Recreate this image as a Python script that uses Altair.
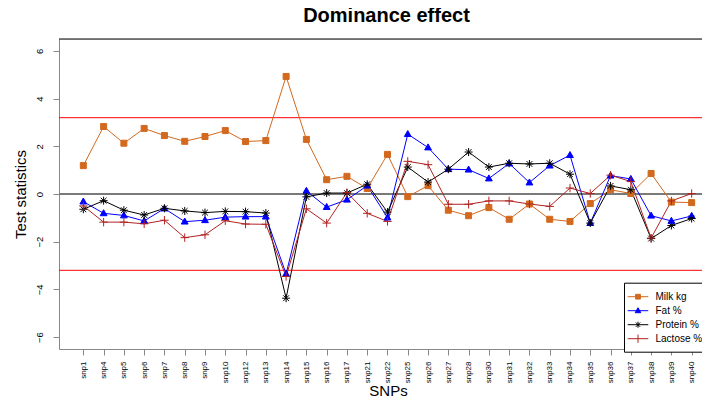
import json
import altair as alt
import pandas as pd

# ---- data ----
snps = ["snp1", "snp4", "snp5", "snp6", "snp7", "snp8", "snp9", "snp10", "snp12", "snp13",
        "snp14", "snp15", "snp16", "snp17", "snp21", "snp22", "snp25", "snp26", "snp27", "snp28",
        "snp30", "snp31", "snp32", "snp33", "snp34", "snp35", "snp36", "snp37", "snp38", "snp39", "snp40"]
milk = [1.19, 2.83, 2.13, 2.75, 2.45, 2.21, 2.41, 2.66, 2.20, 2.24, 4.93, 2.29, 0.60, 0.74, 0.23, 1.66,
        -0.11, 0.35, -0.68, -0.91, -0.57, -1.06, -0.42, -1.06, -1.15, -0.40, 0.18, 0.02, 0.86, -0.34, -0.36]
fat = [-0.32, -0.81, -0.90, -1.13, -0.61, -1.16, -1.10, -0.97, -0.95, -0.95, -3.35, 0.13, -0.55, -0.24, 0.35, -0.99,
       2.51, 1.95, 1.04, 1.02, 0.65, 1.28, 0.48, 1.19, 1.63, -1.22, 0.77, 0.63, -0.91, -1.13, -0.92]
protein = [-0.64, -0.28, -0.68, -0.88, -0.60, -0.71, -0.78, -0.73, -0.74, -0.80, -4.37, -0.12, 0.04, 0.04, 0.41, -0.76,
           1.13, 0.50, 1.04, 1.76, 1.13, 1.29, 1.26, 1.29, 0.83, -1.22, 0.34, 0.18, -1.87, -1.32, -1.03]
lactose = [-0.50, -1.18, -1.18, -1.25, -1.10, -1.83, -1.71, -1.12, -1.26, -1.27, -3.46, -0.62, -1.22, 0.06, -0.81, -1.15,
           1.37, 1.23, -0.43, -0.43, -0.29, -0.29, -0.42, -0.52, 0.25, 0.02, 0.79, 0.52, -1.85, -0.29, 0.02]
series_names = ["Milk kg", "Fat %", "Protein %", "Lactose %"]
thresholds = [3.2, -3.2]
zero_line = [0]
y_ticks = [-6, -4, -2, 0, 2, 4, 6]

# ---- styling ----
colors = ["#D2691E", "#0000FF", "#000000", "#B22222"]
fills = ["#D2691E", "#0000FF", "transparent", "transparent"]
point_paths = [
    "M-0.75,-0.75H0.75V0.75H-0.75Z",
    "M0,-0.9L0.85,0.6H-0.85Z",
    "M0,-1V1M-1,0H1M-0.72,-0.72L0.72,0.72M-0.72,0.72L0.72,-0.72",
    "M0,-1.05V1.05M-1.05,0H1.05",
]
legend_paths = [
    "M-1.55,0H1.55M-0.36,-0.36H0.36V0.36H-0.36Z",
    "M-1.55,0H1.55M0,-0.45L0.42,0.3H-0.42Z",
    "M-1.55,0H1.55M0,-0.45V0.45M-0.32,-0.32L0.32,0.32M-0.32,0.32L0.32,-0.32",
    "M-1.55,0H1.55M0,-0.62V0.62",
]
FONT = "Liberation Sans, Arial, Helvetica, sans-serif"

rows = []
for i, s in enumerate(snps):
    for name, vals in zip(series_names, [milk, fat, protein, lactose]):
        rows.append({"idx": i, "snp": s, "series": name, "value": vals[i]})
df = pd.DataFrame(rows)

label_expr = "(" + json.dumps(snps) + ")[datum.value]"

x_enc = alt.X(
    "idx:Q",
    scale=alt.Scale(domain=[-1.2, 30.51], nice=False, zero=False),
    axis=alt.Axis(
        values=list(range(len(snps))), labelExpr=label_expr, title="SNPs",
        labelAngle=-90, labelAlign="right", labelBaseline="middle",
        labelFontSize=8, labelPadding=6, tickSize=6, labelOverlap=False,
        titleFontSize=15, titleFontWeight="normal", titleX=329, titleY=41,
        titleAlign="center", titleBaseline="middle", grid=False,
    ),
)
y_enc = alt.Y(
    "value:Q",
    scale=alt.Scale(domain=[-6.5, 6.5], nice=False, zero=False),
    axis=alt.Axis(
        values=y_ticks, title="Test statistics", labelAngle=-90,
        labelAlign="center", labelBaseline="bottom", labelFontSize=9.5,
        labelPadding=9, tickSize=6, titleFontSize=15, titleFontWeight="normal",
        titleX=-39, titleY=155, titleAngle=-90, titleAlign="center",
        titleBaseline="middle", grid=False,
    ),
)

base = alt.Chart(df)

red = alt.Chart(pd.DataFrame({"t": thresholds})).mark_rule(color="#FF0000", strokeWidth=1).encode(y="t:Q")
zero = alt.Chart(pd.DataFrame({"t": zero_line})).mark_rule(color="#7a7a7a", strokeWidth=2).encode(y="t:Q")
top = alt.Chart(pd.DataFrame({"t": [6.5]})).mark_rule(color="#000000", strokeWidth=1).encode(y="t:Q")

lines = base.mark_line(strokeWidth=1).encode(
    x=x_enc, y=y_enc,
    color=alt.Color("series:N", scale=alt.Scale(domain=series_names, range=colors), legend=None),
    order="idx:Q",
)

points = base.mark_point(opacity=1, strokeWidth=1, size=64).encode(
    x=x_enc, y=y_enc,
    shape=alt.Shape("series:N", scale=alt.Scale(domain=series_names, range=point_paths), legend=None),
    stroke=alt.Stroke("series:N", scale=alt.Scale(domain=series_names, range=colors), legend=None),
    fill=alt.Fill("series:N", scale=alt.Scale(domain=series_names, range=fills), legend=None),
)

leg = dict(
    title=None, orient="none", legendX=565, legendY=243.7, padding=6.5,
    rowPadding=1, symbolSize=177, symbolStrokeWidth=1, labelFontSize=10,
    labelFont=FONT, labelColor="#000000", labelOffset=10, strokeColor="#000000",
    fillColor="#FFFFFF", symbolOpacity=1,
)
legend_layer = base.transform_filter("false").mark_point(opacity=1, strokeWidth=1).encode(
    x=x_enc, y=y_enc,
    shape=alt.Shape("series:N", scale=alt.Scale(domain=series_names, range=legend_paths), legend=alt.Legend(**leg)),
    stroke=alt.Stroke("series:N", scale=alt.Scale(domain=series_names, range=colors), legend=alt.Legend(**leg)),
    fill=alt.Fill("series:N", scale=alt.Scale(domain=series_names, range=fills), legend=alt.Legend(**leg)),
)

chart = (
    alt.layer(red, zero, top, lines, points, legend_layer)
    .resolve_scale(shape="independent", stroke="independent", fill="independent")
    .properties(
        width=643, height=310,
        title=alt.TitleParams("Dominance effect", fontSize=20, fontWeight="bold", font=FONT,
                              anchor="middle", frame="group", dx=6, dy=19, offset=16,
                              baseline="alphabetic", color="#000000"),
        autosize=alt.AutoSizeParams(type="none"),
        padding={"left": 51, "top": 31, "right": 0, "bottom": 51},
    )
    .configure_view(stroke=None)
    .configure_axis(labelFont=FONT, titleFont=FONT, labelColor="#000000", titleColor="#000000",
                    tickColor="#000000", domainColor="#000000", domainWidth=1, tickWidth=1)
    .configure(background="#FFFFFF")
)

chart.save("out.html", embed_options={"renderer": "svg", "actions": False})
